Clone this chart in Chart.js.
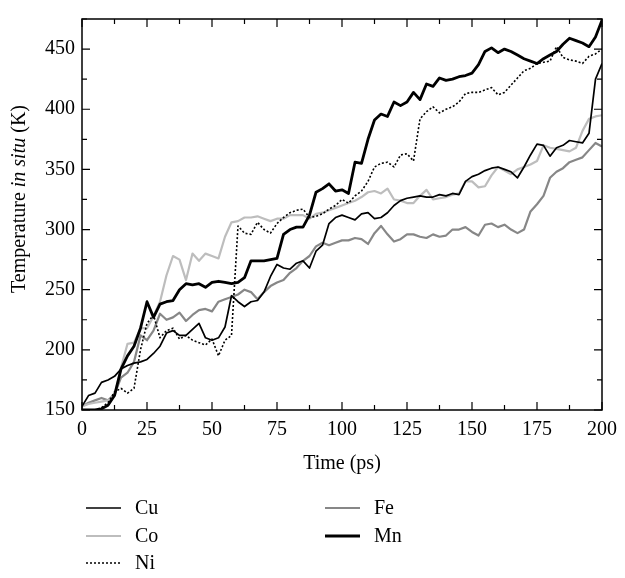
<!DOCTYPE html>
<html>
<head>
<meta charset="utf-8">
<title>Temperature in situ</title>
<script src="https://cdn.jsdelivr.net/npm/chart.js@4.4.0/dist/chart.umd.min.js"></script>
<style>
html, body { margin: 0; padding: 0; background: #fff; }
canvas { display: block; }
</style>
</head>
<body>
<canvas id="tempChart" width="625" height="578"></canvas>
<script>
// time axis (ps), one sample every 2.5 ps
var times = [0, 2.5, 5, 7.5, 10, 12.5, 15, 17.5, 20, 22.5, 25, 27.5, 30, 32.5, 35, 37.5, 40, 42.5, 45, 47.5,
    50, 52.5, 55, 57.5, 60, 62.5, 65, 67.5, 70, 72.5, 75, 77.5, 80, 82.5, 85, 87.5, 90, 92.5, 95, 97.5,
    100, 102.5, 105, 107.5, 110, 112.5, 115, 117.5, 120, 122.5, 125, 127.5, 130, 132.5, 135, 137.5, 140, 142.5, 145, 147.5,
    150, 152.5, 155, 157.5, 160, 162.5, 165, 167.5, 170, 172.5, 175, 177.5, 180, 182.5, 185, 187.5, 190, 192.5, 195, 197.5, 200];

// temperature (K)
var cu = [153, 162, 164, 173, 175, 178, 184, 187, 189, 190, 192, 197, 203, 214, 216, 212, 212, 217, 222, 210,
    208, 210, 219, 245, 240, 236, 240, 241, 248, 261, 271, 268, 267, 272, 274, 268, 282, 287, 305, 310,
    312, 310, 308, 313, 314, 309, 310, 314, 320, 324, 326, 327, 328, 327, 327, 329, 328, 330, 329, 340,
    344, 346, 349, 351, 352, 350, 348, 343, 352, 362, 371, 370, 361, 368, 370, 374, 373, 372, 380, 425, 438];
var co = [153, 155, 156, 157, 158, 162, 185, 205, 206, 218, 218, 228, 240, 262, 278, 275, 258, 280, 274, 280,
    278, 276, 294, 306, 307, 310, 310, 311, 309, 307, 309, 309, 312, 312, 312, 309, 313, 314, 316, 318,
    320, 322, 324, 327, 331, 332, 330, 334, 325, 324, 322, 322, 328, 333, 325, 326, 327, 329, 330, 340,
    340, 335, 336, 345, 352, 349, 346, 350, 352, 354, 357, 370, 368, 367, 366, 365, 368, 382, 392, 394, 395];
var ni = [150, 150, 150, 152, 156, 165, 168, 164, 168, 200, 222, 229, 210, 216, 218, 209, 212, 208, 206, 204,
    209, 195, 208, 212, 303, 297, 296, 306, 300, 297, 305, 310, 314, 316, 317, 310, 311, 313, 317, 320,
    325, 322, 328, 332, 340, 352, 355, 356, 352, 362, 363, 357, 392, 398, 402, 397, 400, 402, 406, 413,
    414, 414, 416, 418, 412, 414, 420, 426, 432, 434, 438, 439, 440, 452, 443, 441, 440, 438, 444, 446, 450];
var fe = [153, 156, 158, 160, 158, 163, 177, 181, 190, 212, 208, 216, 230, 225, 227, 231, 224, 229, 233, 234,
    232, 240, 242, 244, 246, 250, 248, 242, 248, 253, 256, 258, 264, 268, 274, 278, 286, 289, 287, 289,
    291, 291, 293, 292, 288, 297, 303, 296, 290, 292, 296, 296, 294, 293, 296, 294, 295, 300, 300, 302,
    298, 295, 304, 305, 302, 304, 300, 297, 300, 315, 321, 328, 343, 348, 351, 356, 358, 360, 366, 372, 369];
var mn = [150, 150, 150, 151, 154, 162, 184, 195, 203, 218, 240, 227, 238, 240, 241, 250, 255, 254, 255, 252,
    256, 257, 256, 255, 256, 260, 274, 274, 274, 275, 276, 296, 300, 302, 302, 312, 331, 334, 338, 332,
    333, 330, 356, 355, 375, 391, 396, 394, 406, 403, 406, 414, 408, 421, 419, 426, 424, 425, 427, 428,
    430, 437, 448, 451, 447, 450, 448, 445, 442, 440, 438, 442, 445, 448, 454, 459, 457, 455, 452, 460, 474];

var seriesNames = ['Cu', 'Co', 'Ni', 'Fe', 'Mn'];
var xTickStep = 12.5, xLabelStep = 25;
var yTickStep = 25, yLabelStep = 50;

var FONT = "'Liberation Serif', 'DejaVu Serif', serif";
var FONT_SIZE = 20;

function makePoints(vals) {
    return vals.map(function (v, i) {
        return { x: times[i], y: v };
    });
}

// frame with inward ticks, axis titles and the two-column legend
var decorPlugin = {
    id: 'decor',
    afterDraw: function (chart) {
        var ctx = chart.ctx, a = chart.chartArea;
        var xs = chart.scales.x, ys = chart.scales.y;
        ctx.save();
        ctx.strokeStyle = '#000';
        ctx.lineWidth = 1.5;
        ctx.strokeRect(a.left, a.top, a.right - a.left, a.bottom - a.top);

        ctx.lineWidth = 1.2;
        ctx.beginPath();
        xs.ticks.forEach(function (t) {
            var px = xs.getPixelForValue(t.value);
            var len = (t.value % xLabelStep === 0) ? 8 : 5;
            ctx.moveTo(px, a.bottom);
            ctx.lineTo(px, a.bottom - len);
            ctx.moveTo(px, a.top);
            ctx.lineTo(px, a.top + len);
        });
        ys.ticks.forEach(function (t) {
            var py = ys.getPixelForValue(t.value);
            var len = (t.value % yLabelStep === 0) ? 8 : 5;
            ctx.moveTo(a.left, py);
            ctx.lineTo(a.left + len, py);
            ctx.moveTo(a.right, py);
            ctx.lineTo(a.right - len, py);
        });
        ctx.stroke();

        ctx.fillStyle = '#000';
        ctx.textBaseline = 'middle';
        ctx.textAlign = 'center';
        ctx.font = FONT_SIZE + 'px ' + FONT;
        ctx.fillText('Time (ps)', (a.left + a.right) / 2, 464);

        // y title, "in situ" in italics
        var parts = [['Temperature ', ''], ['in situ', 'italic '], [' (K)', '']];
        var total = 0;
        parts.forEach(function (p) {
            ctx.font = p[1] + FONT_SIZE + 'px ' + FONT;
            total += ctx.measureText(p[0]).width;
        });
        ctx.save();
        ctx.translate(20, 199);
        ctx.rotate(-Math.PI / 2);
        ctx.textAlign = 'left';
        var x = -total / 2;
        parts.forEach(function (p) {
            ctx.font = p[1] + FONT_SIZE + 'px ' + FONT;
            ctx.fillText(p[0], x, 0);
            x += ctx.measureText(p[0]).width;
        });
        ctx.restore();

        // legend: Cu, Co, Ni down the first column, Fe, Mn in the second
        var spots = [[86, 508], [86, 536], [86, 563], [325, 508], [325, 536]];
        ctx.textAlign = 'left';
        ctx.font = FONT_SIZE + 'px ' + FONT;
        chart.data.datasets.forEach(function (ds, i) {
            var p = spots[i];
            ctx.strokeStyle = ds.borderColor;
            ctx.lineWidth = ds.borderWidth;
            ctx.setLineDash(ds.borderDash || []);
            ctx.beginPath();
            ctx.moveTo(p[0], p[1]);
            ctx.lineTo(p[0] + 35, p[1]);
            ctx.stroke();
            ctx.setLineDash([]);
            ctx.fillText(ds.label, p[0] + 49, p[1] + 1);
        });
        ctx.restore();
    }
};

new Chart(document.getElementById('tempChart'), {
    type: 'line',
    data: {
        datasets: [{
            label: seriesNames[0], data: makePoints(cu),
            borderColor: '#000000', borderWidth: 1.7, order: 2
        }, {
            label: seriesNames[1], data: makePoints(co),
            borderColor: '#bdbdbd', borderWidth: 2.2, order: 4
        }, {
            label: seriesNames[2], data: makePoints(ni),
            borderColor: '#000000', borderWidth: 1.6, borderDash: [2, 2], order: 3
        }, {
            label: seriesNames[3], data: makePoints(fe),
            borderColor: '#878787', borderWidth: 2.2, order: 5
        }, {
            label: seriesNames[4], data: makePoints(mn),
            borderColor: '#000000', borderWidth: 2.8, order: 1
        }]
    },
    options: {
        responsive: false,
        devicePixelRatio: 1,
        animation: false,
        elements: {
            point: { radius: 0, hoverRadius: 0 },
            line: { tension: 0, fill: false, borderJoinStyle: 'round' }
        },
        layout: { padding: { left: 0, right: 14, top: 7, bottom: 0 } },
        plugins: {
            legend: { display: false },
            tooltip: { enabled: false }
        },
        scales: {
            x: {
                type: 'linear',
                min: 0,
                max: 200,
                grid: { display: false, drawTicks: false },
                border: { display: false },
                afterFit: function (scale) { scale.height = 168; },
                ticks: {
                    stepSize: xTickStep,
                    autoSkip: false,
                    maxRotation: 0,
                    padding: 8,
                    color: '#000',
                    font: { family: FONT, size: FONT_SIZE },
                    callback: function (v) { return v % xLabelStep === 0 ? v : ''; }
                }
            },
            y: {
                min: 150,
                max: 475,
                grid: { display: false, drawTicks: false },
                border: { display: false },
                afterFit: function (scale) { scale.width = 82; },
                ticks: {
                    stepSize: yTickStep,
                    autoSkip: false,
                    padding: 7,
                    color: '#000',
                    font: { family: FONT, size: FONT_SIZE },
                    callback: function (v) { return v % yLabelStep === 0 ? v : ''; }
                }
            }
        }
    },
    plugins: [decorPlugin]
});
</script>
</body>
</html>
